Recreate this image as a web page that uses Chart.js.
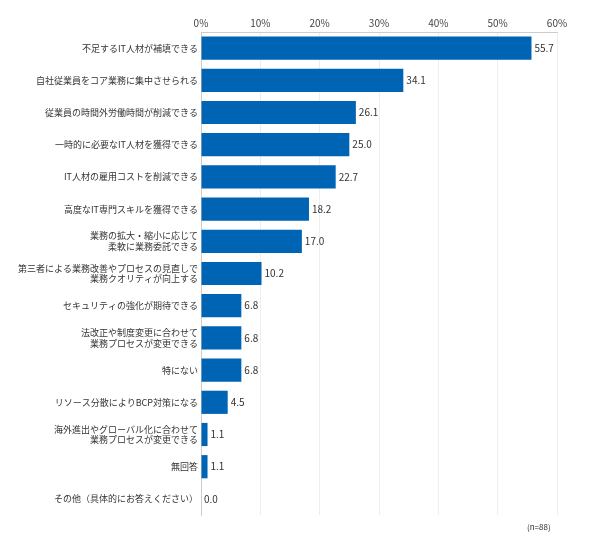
<!DOCTYPE html><html><head><meta charset="utf-8">
<script src="https://cdn.jsdelivr.net/npm/chart.js@4"></script>
<style>body{margin:0;background:#fff}#w{position:relative;width:590px;height:550px}#n{position:absolute;left:527px;top:521px;font:8px "Noto Sans CJK JP";color:#333}</style></head><body>
<div id="w"><canvas id="c" width="590" height="550"></canvas><div id="n">(n=88)</div></div>
<script>
const categories=[["不足するIT人材が補填できる"],["自社従業員をコア業務に集中させられる"],["従業員の時間外労働時間が削減できる"],["一時的に必要なIT人材を獲得できる"],["IT人材の雇用コストを削減できる"],["高度なIT専門スキルを獲得できる"],["業務の拡大・縮小に応じて","柔軟に業務委託できる"],["第三者による業務改善やプロセスの見直しで","業務クオリティが向上する"],["セキュリティの強化が期待できる"],["法改正や制度変更に合わせて","業務プロセスが変更できる"],["特にない"],["リソース分散によりBCP対策になる"],["海外進出やグローバル化に合わせて","業務プロセスが変更できる"],["無回答"],["その他（具体的にお答えください）"]];
const values=[55.7,34.1,26.1,25.0,22.7,18.2,17.0,10.2,6.8,6.8,6.8,4.5,1.1,1.1,0.0];
const tickLabels=["0%","10%","20%","30%","40%","50%","60%"];
const valLabels={id:'vl',afterDatasetsDraw(ch){const c=ch.ctx;c.save();c.font='10px "Noto Sans CJK JP"';c.fillStyle='#333';c.textBaseline='middle';ch.getDatasetMeta(0).data.forEach((b,i)=>{c.fillText(values[i].toFixed(1),b.x+3,b.y);});c.restore();}};
new Chart(document.getElementById('c'),{type:'bar',data:{labels:categories,datasets:[{data:values,backgroundColor:'#0064b4',barPercentage:0.72,categoryPercentage:1}]},
plugins:[valLabels],
options:{indexAxis:'y',responsive:false,animation:false,layout:{padding:{left:4,right:33,top:14,bottom:35}},
plugins:{legend:{display:false},tooltip:{enabled:false}},
scales:{x:{position:'top',min:0,max:60,ticks:{stepSize:10,color:'#444',font:{size:10,family:'"Noto Sans CJK JP"'},callback:(v,i)=>tickLabels[i]},grid:{color:'#eee',drawTicks:false},border:{color:'#ccc'}},
y:{afterFit:s=>{s.width=197;},ticks:{color:'#333',font:{size:9,family:'"Noto Sans CJK JP"'},autoSkip:false},grid:{display:false,drawTicks:false},border:{color:'#ccc'}}}}});
</script></body></html>
